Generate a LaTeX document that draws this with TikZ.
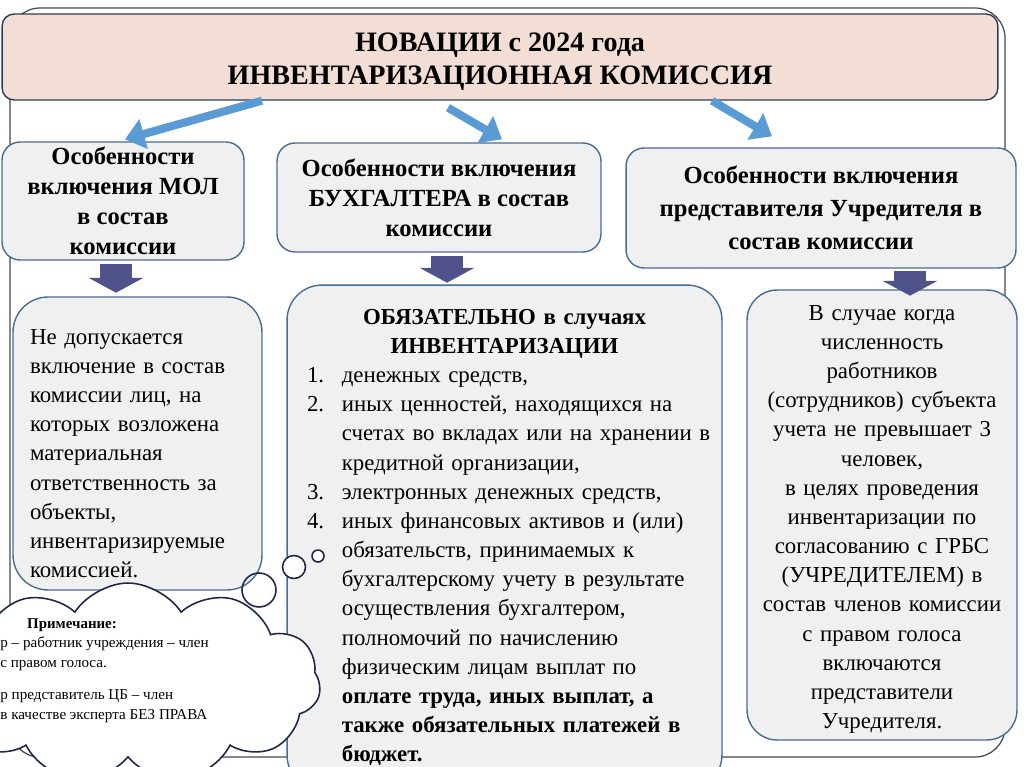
\documentclass[tikz,border=0pt]{standalone}
\usepackage{fontspec}
\setmainfont{Liberation Serif}
\usetikzlibrary{arrows.meta,calc,shapes.symbols}
\definecolor{titlefill}{RGB}{243,222,213}
\definecolor{titleline}{RGB}{45,60,90}
\definecolor{boxfill}{RGB}{240,240,240}
\definecolor{boxline}{RGB}{72,108,148}
\definecolor{pushblue}{RGB}{91,155,213}
\definecolor{downblue}{RGB}{80,82,140}
\definecolor{cloudline}{RGB}{30,40,75}
\definecolor{frameline}{RGB}{70,70,70}
\newcommand{\ListItem}[2]{\makebox[7.9cm][l]{\makebox[19.8pt][l]{#1}#2}}

\begin{document}
\begin{tikzpicture}[
  x=0.02cm, y=-0.02cm,
  font=\fontsize{13}{16.6}\selectfont,
  box/.style={
    draw=boxline,
    fill=boxfill,
    line width=0.8pt,
    rounded corners=0.36cm,
    align=center,
    inner sep=0pt
  },
  head/.style={box, font=\bfseries\fontsize{14}{17}\selectfont},
  note/.style={box, rounded corners=0.7cm},
  push/.style={-{Triangle[length=11pt,width=17pt]}, line width=4.6pt, draw=pushblue},
  down/.style={-{Triangle[length=8.5pt,width=31pt]}, line width=18.7pt, draw=downblue},
  bubble/.style={circle, draw=cloudline, line width=0.9pt, fill=white, inner sep=0pt},
  frame/.style={draw=frameline, line width=0.7pt, rounded corners=0.6cm}
]
\useasboundingbox (0,0) rectangle (1024,767);

% outer frame
\draw[frame] (10,8) rectangle (1005,757);

\node[box, draw=titleline, fill=titlefill, rounded corners=0.24cm,
  minimum width=19.92cm, minimum height=1.72cm,
  font=\bfseries\fontsize{16}{18.7}\selectfont] (title) at (500,57)
  {\rule{0pt}{16pt}НОВАЦИИ с 2024 года\\ИНВЕНТАРИЗАЦИОННАЯ КОМИССИЯ};

% three headings
\node[head, minimum width=4.84cm, minimum height=2.36cm] (mol) at (123,201)
  {Особенности\\включения МОЛ\\в состав\\комиссии};
\node[head, minimum width=6.48cm, minimum height=2.18cm] (buh) at (439,197.5)
  {Особенности включения\\БУХГАЛТЕРА в состав\\комиссии};
\node[head, minimum width=7.8cm, minimum height=2.4cm,
  font=\bfseries\fontsize{14}{18.7}\selectfont] (uchr) at (821,208)
  {Особенности включения\\представителя Учредителя в\\состав комиссии};

\draw[push] ($(title.south)+(-238,0)$) -- ($(mol.north)+(2,-2)$);
\draw[push] ($(title.south)+(-52,7)$) -- ($(buh.north)+(63,-3)$);
\draw[push] ($(title.south)+(212,0)$) -- ($(uchr.north)+(-49,-11)$);

% notes under headings
\node[note, minimum width=4.98cm, minimum height=5.86cm, text width=4.3cm,
  align=left] (molnote) at (137.5,443.5)
  {\rule{0pt}{20pt}Не допускается\\включение в состав\\комиссии лиц, на\\которых возложена\\материальная\\ответственность за\\объекты,\\инвентаризируемые\\комиссией.};
\node[note, minimum width=8.7cm, minimum height=10.1cm, text width=7.9cm]
  (buhnote) at (504.5,537.5)
  {\textbf{ОБЯЗАТЕЛЬНО в случаях}\\\textbf{ИНВЕНТАРИЗАЦИИ}\\
   \ListItem{1.}{денежных средств,}\\
   \ListItem{2.}{иных ценностей, находящихся на}\\
   \ListItem{}{счетах во вкладах или на хранении в}\\
   \ListItem{}{кредитной организации,}\\
   \ListItem{3.}{электронных денежных средств,}\\
   \ListItem{4.}{иных финансовых активов и (или)}\\
   \ListItem{}{обязательств, принимаемых к}\\
   \ListItem{}{бухгалтерскому учету в результате}\\
   \ListItem{}{осуществления бухгалтером,}\\
   \ListItem{}{полномочий по начислению}\\
   \ListItem{}{физическим лицам выплат по}\\
   \ListItem{}{\textbf{оплате труда, иных выплат, а}}\\
   \ListItem{}{\textbf{также обязательных платежей в}}\\
   \ListItem{}{\textbf{бюджет.}}};
\node[note, rounded corners=0.6cm, minimum width=5.4cm, minimum height=9cm,
  text width=5cm] (uchrnote) at (882,515)
  {\rule{0pt}{13.5pt}В случае когда\\численность\\работников\\(сотрудников) субъекта\\учета не превышает 3\\человек,\\в целях проведения\\инвентаризации по\\согласованию с ГРБС\\(УЧРЕДИТЕЛЕМ) в\\состав членов комиссии\\с правом голоса\\включаются\\представители\\Учредителя.};

\draw[down] ($(mol.south)+(-7,3)$) -- ++(0,29);
\draw[down] ($(buh.south)+(8,3)$) -- ++(0,27);
\draw[down] ($(uchr.south)+(89,2)$) -- ++(0,25);

% remark cloud
\node[cloud, cloud puffs=11, cloud puff arc=115, aspect=1.8, draw=cloudline,
  fill=white, line width=0.9pt, minimum width=7.7cm, minimum height=4.0cm]
  (remark) at (128,683) {};
\node[bubble, minimum size=0.24cm] (b1) at (318,556) {};
\node[bubble, minimum size=0.46cm] (b2) at (294,567) {};
\node[circle, draw=cloudline, line width=0.9pt, minimum size=0.68cm] (b3) at (259,590) {};
\node[font=\bfseries\fontsize{8.5}{11}\selectfont] (remhead) at (72,625) {Примечание:};
\node[anchor=north west, align=left, inner sep=0pt,
  font=\fontsize{8.6}{11.3}\selectfont] (rembody) at (0,636)
  {р -- работник учреждения -- член\\с правом голоса.\\[7pt]р представитель ЦБ -- член\\в качестве эксперта БЕЗ ПРАВА};
\end{tikzpicture}
\end{document}
